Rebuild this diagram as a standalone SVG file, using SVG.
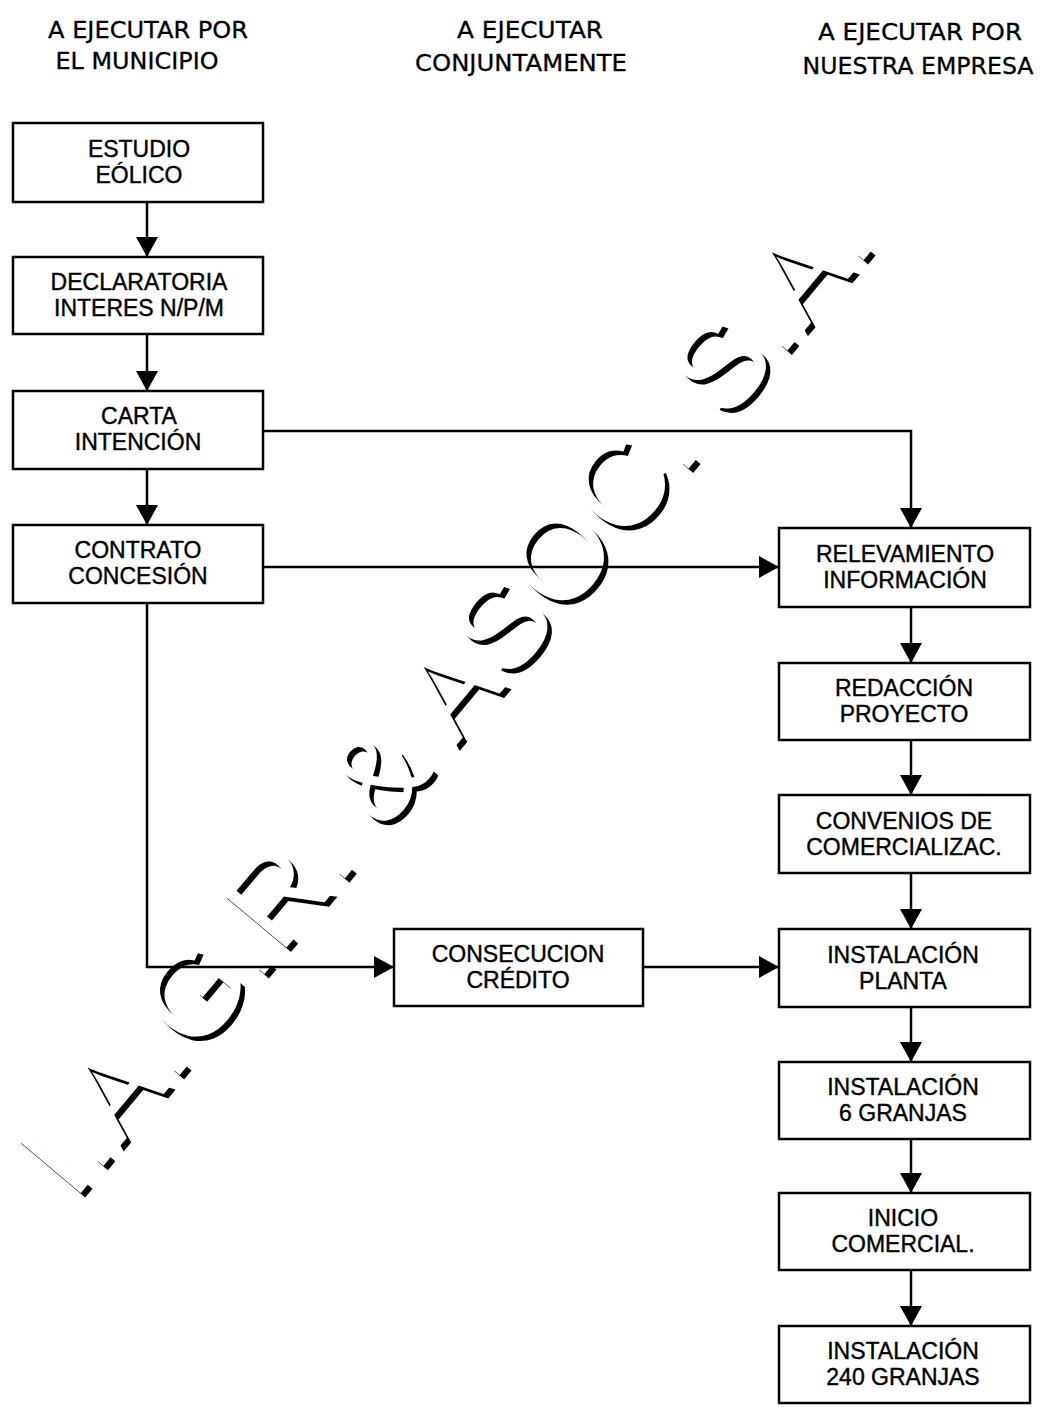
<svg xmlns="http://www.w3.org/2000/svg" width="1042" height="1410" viewBox="0 0 1042 1410">
<style>
.hdr{font-family:"DejaVu Sans",Verdana,sans-serif;font-size:23px;fill:#000;stroke:#000;stroke-width:0.3;text-anchor:middle}
.box{fill:none;stroke:#000;stroke-width:2.5}
.lbl{font-family:"Liberation Sans",Arial,sans-serif;font-size:23px;fill:#000;stroke:#000;stroke-width:0.4;text-anchor:middle}
.con{fill:none;stroke:#000;stroke-width:2.5}
.wm{font-family:"Liberation Sans",Arial,sans-serif;font-size:122px}
</style>
<defs>
<marker id="ah" markerUnits="userSpaceOnUse" markerWidth="22" markerHeight="22" refX="20" refY="11" orient="auto">
<path d="M0,0 L20,11 L0,22 z" fill="#000"/>
</marker>
</defs>
<rect width="1042" height="1410" fill="#fff"/>
<g id="watermark">
<text class="wm" fill="#000" transform="translate(78,1206) rotate(-50)" textLength="1252" lengthAdjust="spacing">I.A.G.R. &amp; ASOC. S.A.</text>
<text class="wm" fill="#fff" transform="translate(73.5,1201.5) rotate(-50)" textLength="1252" lengthAdjust="spacing">I.A.G.R. &amp; ASOC. S.A.</text>
</g>
<g id="headers">
<text class="hdr" x="148" y="38" textLength="200" lengthAdjust="spacingAndGlyphs">A EJECUTAR POR</text>
<text class="hdr" x="137" y="69" textLength="163" lengthAdjust="spacingAndGlyphs">EL MUNICIPIO</text>
<text class="hdr" x="530" y="38" textLength="146" lengthAdjust="spacingAndGlyphs">A EJECUTAR</text>
<text class="hdr" x="521" y="71" textLength="212" lengthAdjust="spacingAndGlyphs">CONJUNTAMENTE</text>
<text class="hdr" x="920" y="40" textLength="204" lengthAdjust="spacingAndGlyphs">A EJECUTAR POR</text>
<text class="hdr" x="918" y="74" textLength="231" lengthAdjust="spacingAndGlyphs">NUESTRA EMPRESA</text>
</g>
<g id="connectors">
<line class="con" x1="147" y1="202" x2="147" y2="257" marker-end="url(#ah)"/>
<line class="con" x1="147" y1="334" x2="147" y2="391" marker-end="url(#ah)"/>
<line class="con" x1="147" y1="469" x2="147" y2="525" marker-end="url(#ah)"/>
<polyline class="con" points="263,431 911,431 911,528" marker-end="url(#ah)"/>
<line class="con" x1="263" y1="567" x2="779" y2="567" marker-end="url(#ah)"/>
<polyline class="con" points="147,603 147,967 394,967" marker-end="url(#ah)"/>
<line class="con" x1="643" y1="967" x2="779" y2="967" marker-end="url(#ah)"/>
<line class="con" x1="911" y1="607" x2="911" y2="663" marker-end="url(#ah)"/>
<line class="con" x1="911" y1="740" x2="911" y2="795" marker-end="url(#ah)"/>
<line class="con" x1="911" y1="873" x2="911" y2="929" marker-end="url(#ah)"/>
<line class="con" x1="911" y1="1007" x2="911" y2="1062" marker-end="url(#ah)"/>
<line class="con" x1="911" y1="1139" x2="911" y2="1193" marker-end="url(#ah)"/>
<line class="con" x1="911" y1="1270" x2="911" y2="1326" marker-end="url(#ah)"/>
</g>
<g id="n1"><rect class="box" x="13" y="123" width="250" height="79"/><text class="lbl" x="139" y="157">ESTUDIO</text><text class="lbl" x="139" y="183">EÓLICO</text></g>
<g id="n2"><rect class="box" x="13" y="257" width="250" height="77"/><text class="lbl" x="139" y="290">DECLARATORIA</text><text class="lbl" x="139" y="316">INTERES N/P/M</text></g>
<g id="n3"><rect class="box" x="13" y="391" width="250" height="78"/><text class="lbl" x="139" y="424">CARTA</text><text class="lbl" x="138" y="450">INTENCIÓN</text></g>
<g id="n4"><rect class="box" x="13" y="525" width="250" height="78"/><text class="lbl" x="138" y="558">CONTRATO</text><text class="lbl" x="138" y="584">CONCESIÓN</text></g>
<g id="n5"><rect class="box" x="779" y="528" width="251" height="79"/><text class="lbl" x="905" y="562">RELEVAMIENTO</text><text class="lbl" x="905" y="588">INFORMACIÓN</text></g>
<g id="n6"><rect class="box" x="779" y="663" width="251" height="77"/><text class="lbl" x="904" y="696">REDACCIÓN</text><text class="lbl" x="904" y="722">PROYECTO</text></g>
<g id="n7"><rect class="box" x="779" y="795" width="251" height="78"/><text class="lbl" x="904" y="829">CONVENIOS DE</text><text class="lbl" x="904" y="855">COMERCIALIZAC.</text></g>
<g id="n8"><rect class="box" x="779" y="929" width="251" height="78"/><text class="lbl" x="903" y="963">INSTALACIÓN</text><text class="lbl" x="903" y="989">PLANTA</text></g>
<g id="n9"><rect class="box" x="779" y="1062" width="251" height="77"/><text class="lbl" x="903" y="1095">INSTALACIÓN</text><text class="lbl" x="903" y="1121">6 GRANJAS</text></g>
<g id="n10"><rect class="box" x="779" y="1193" width="251" height="77"/><text class="lbl" x="903" y="1226">INICIO</text><text class="lbl" x="903" y="1252">COMERCIAL.</text></g>
<g id="n11"><rect class="box" x="779" y="1326" width="251" height="77"/><text class="lbl" x="903" y="1359">INSTALACIÓN</text><text class="lbl" x="903" y="1385">240 GRANJAS</text></g>
<g id="n12"><rect class="box" x="394" y="929" width="249" height="77"/><text class="lbl" x="518" y="962">CONSECUCION</text><text class="lbl" x="518" y="988">CRÉDITO</text></g>
</svg>
